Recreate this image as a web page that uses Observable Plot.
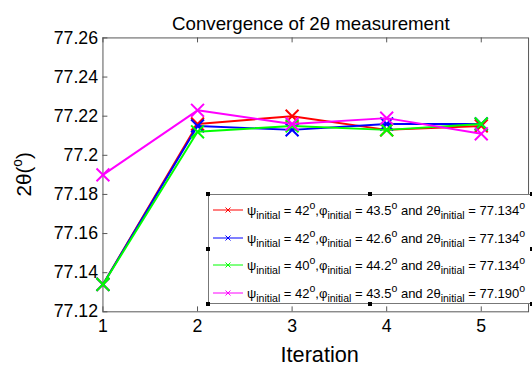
<!DOCTYPE html>
<html>
<head>
<meta charset="utf-8">
<script src="https://cdn.jsdelivr.net/npm/d3@7"></script>
<script src="https://cdn.jsdelivr.net/npm/@observablehq/plot@0.6"></script>
<style>
  html, body { margin: 0; padding: 0; background: white; overflow: hidden; }
  #wrap { position: relative; width: 532px; height: 369px; overflow: hidden; font-family: "Liberation Sans", Arial, sans-serif; }
  #legend { position: absolute; left: 208px; top: 194px; width: 330px; height: 110px; border: 1px solid #777; background: white; box-sizing: border-box; }
  .row { position: absolute; left: 0; height: 20px; display: flex; align-items: center; white-space: nowrap; font-size: 13px; color: #000; }
  .row svg { margin-left: 4px; margin-right: 4px; }
  .row sub { font-size: 10.5px; vertical-align: -4px; line-height: 0; }
  .row sup { font-size: 10.5px; vertical-align: 6px; line-height: 0; }
  .h { position: absolute; width: 4px; height: 4px; background: #000; }
</style>
</head>
<body>
<div id="wrap"></div>
<script>
// ---- data ----
const iterations = [1, 2, 3, 4, 5];
const seriesNames = ["s1", "s2", "s3", "s4"];
const seriesColors = ["#ff0000", "#0000ff", "#00ff00", "#ff00ff"];
const s1 = [77.134, 77.216, 77.220, 77.213, 77.215];
const s2 = [77.134, 77.215, 77.213, 77.216, 77.216];
const s3 = [77.134, 77.212, 77.215, 77.213, 77.216];
const s4 = [77.190, 77.223, 77.216, 77.219, 77.211];
const yTicks = [77.12, 77.14, 77.16, 77.18, 77.2, 77.22, 77.24, 77.26];
const psiInit = ["42", "42", "40", "42"];
const phiInit = ["43.5", "42.6", "44.2", "43.5"];
const thetaInit = ["77.134", "77.134", "77.134", "77.190"];
const titleText = "Convergence of 2θ measurement";
const xLabel = "Iteration";

const allSeries = [s1, s2, s3, s4];
const table = [];
allSeries.forEach((vals, si) => vals.forEach((v, i) => table.push({series: seriesNames[si], iter: iterations[i], value: v})));

const W = 540, H = 369, mL = 104, mR = 4, mT = 38, mB = 53;
const plotW = W - mL - mR, plotH = H - mT - mB;
const axisColor = "#555";

const seriesMarks = [];
seriesNames.forEach((name, si) => {
  const d = table.filter(r => r.series === name);
  seriesMarks.push(Plot.line(d, {x: "iter", y: "value", stroke: seriesColors[si], strokeWidth: 2}));
  seriesMarks.push(Plot.dot(d, {x: "iter", y: "value", stroke: seriesColors[si], symbol: "times", r: 6, strokeWidth: 2}));
});

const chart = Plot.plot({
  width: W, height: H,
  marginLeft: mL, marginRight: mR, marginTop: mT, marginBottom: mB,
  x: {domain: [1, 5.5]},
  y: {domain: [77.12, 77.26]},
  style: {fontFamily: "'Liberation Sans', Arial, sans-serif", fontSize: "18px", background: "white", overflow: "visible", color: "#000"},
  marks: [
    Plot.frame({stroke: axisColor, strokeWidth: 1}),
    Plot.tickX(iterations, {x: d => d, stroke: axisColor, insetTop: plotH - 5}),
    Plot.tickX(iterations, {x: d => d, stroke: axisColor, insetBottom: plotH - 5}),
    Plot.tickY(yTicks, {y: d => d, stroke: axisColor, insetRight: plotW - 5}),
    Plot.axisX(iterations, {tickSize: 0, tickPadding: 8, label: null, fontSize: 18, tickFormat: d => String(d)}),
    Plot.axisY(yTicks, {tickSize: 0, tickPadding: 5, label: null, fontSize: 18, tickFormat: d => String(+d.toFixed(2))}),
    ...seriesMarks,
    Plot.text([titleText], {frameAnchor: "top", dy: -22, dx: -5, fontSize: 19, fill: "#000"}),
    Plot.text([xLabel], {frameAnchor: "bottom", dy: 51, dx: 4, fontSize: 22, fill: "#000"})
  ]
});

const wrap = document.getElementById("wrap");
wrap.appendChild(chart);

// y-axis label with superscript
const svg = d3.select(chart);
const yl = svg.append("text")
  .attr("transform", "translate(26," + (mT + plotH / 2) + ") rotate(-90)")
  .attr("text-anchor", "middle")
  .attr("dominant-baseline", "middle")
  .attr("font-size", 21)
  .attr("fill", "#000");
yl.append("tspan").text("2θ(");
yl.append("tspan").attr("font-size", 14).attr("baseline-shift", "55%").text("o");
yl.append("tspan").text(")");

// legend
const legend = document.createElement("div");
legend.id = "legend";
wrap.appendChild(legend);
const rowTops = [5, 33, 60, 88];
seriesNames.forEach((name, si) => {
  const row = document.createElement("div");
  row.className = "row";
  row.style.top = rowTops[si] + "px";
  const c = seriesColors[si];
  row.innerHTML =
    `<svg width="30" height="10"><line x1="0" y1="5" x2="30" y2="5" stroke="${c}" stroke-width="1"/>` +
    `<path d="M12.5,2.5L17.5,7.5M12.5,7.5L17.5,2.5" stroke="${c}" stroke-width="1"/></svg>` +
    `<span>ψ<sub>initial</sub> = ${psiInit[si]}<sup>o</sup>,φ<sub>initial</sub> = ${phiInit[si]}<sup>o</sup> and 2θ<sub>initial</sub> = ${thetaInit[si]}<sup>o</sup></span>`;
  legend.appendChild(row);
});
// selection handles
[[206,192],[368,192],[530,192],[206,247],[530,247],[206,302],[368,302],[530,302]].forEach(([x,y]) => {
  const h = document.createElement("div");
  h.className = "h";
  h.style.left = x + "px"; h.style.top = y + "px";
  wrap.appendChild(h);
});
</script>
</body>
</html>
